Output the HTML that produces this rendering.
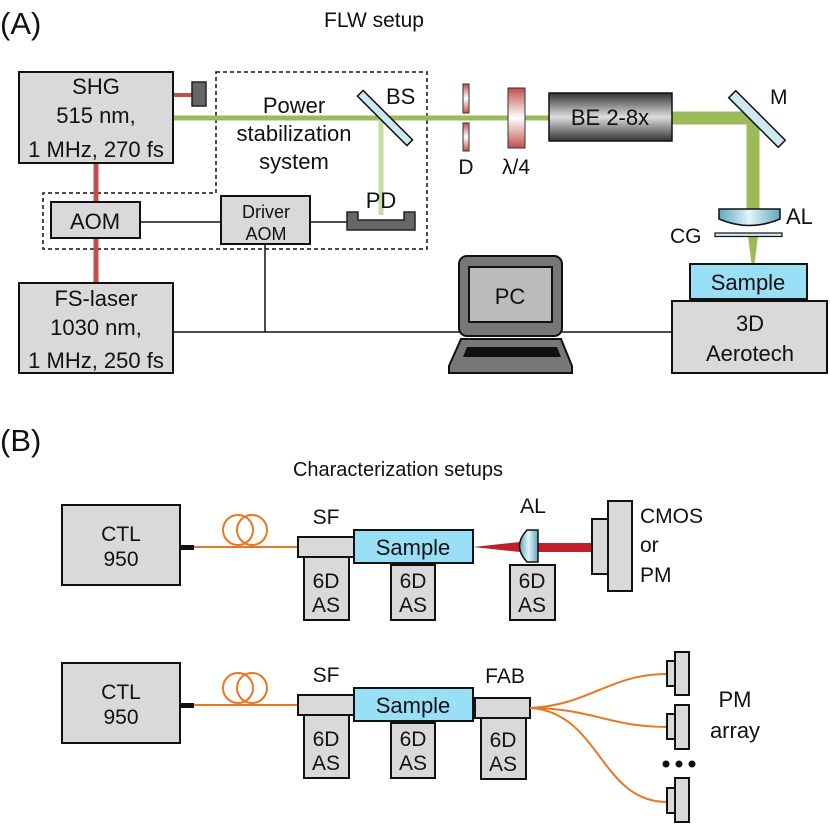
<!DOCTYPE html>
<html><head><style>body{margin:0;background:#fff}svg{display:block}text{font-family:"Liberation Sans",sans-serif;fill:#111}</style></head><body>
<svg width="830" height="829" viewBox="0 0 830 829" xmlns="http://www.w3.org/2000/svg">
<defs>
<linearGradient id="g1" x1="0" y1="0" x2="0" y2="1"><stop offset="0" stop-color="#333"/><stop offset=".5" stop-color="#ddd"/><stop offset="1" stop-color="#333"/></linearGradient>
<linearGradient id="r1" x1="0" y1="0" x2="0" y2="1"><stop offset="0" stop-color="#c0504d"/><stop offset=".5" stop-color="#fff"/><stop offset="1" stop-color="#c0504d"/></linearGradient>
<linearGradient id="b1" x1="0" y1="0" x2="1" y2="0"><stop offset="0" stop-color="#5fa8c0"/><stop offset=".5" stop-color="#e4f4f8"/><stop offset="1" stop-color="#5fa8c0"/></linearGradient>
</defs>
<text x="0" y="34" font-size="31">(A)</text>
<text x="374" y="27" font-size="21" text-anchor="middle">FLW setup</text>
<path d="M216,72H427V249H43V193H216Z" fill="none" stroke="#111" stroke-width="1.5" stroke-dasharray="4,3"/>
<line x1="96" y1="163" x2="96" y2="283" stroke="#c0504d" stroke-width="5"/>
<line x1="173" y1="95" x2="192" y2="95" stroke="#c0504d" stroke-width="4"/>
<rect x="192" y="82" width="14" height="24" fill="#666" stroke="#222" stroke-width="1.5"/>
<line x1="173" y1="118" x2="550" y2="118" stroke="#9bbb59" stroke-width="5"/>
<line x1="381" y1="118" x2="381" y2="215" stroke="#c8dca8" stroke-width="5"/>
<line x1="672" y1="118" x2="759" y2="118" stroke="#9bbb59" stroke-width="13"/>
<line x1="753" y1="112" x2="753" y2="210" stroke="#9bbb59" stroke-width="13"/>
<polygon points="748,236 758,236 753,276" fill="#9bbb59"/>
<rect x="19" y="72" width="154" height="91" fill="#d9d9d9" stroke="#111" stroke-width="2"/>
<text x="96" y="94" font-size="22" text-anchor="middle">SHG</text>
<text x="96" y="123" font-size="22" text-anchor="middle">515 nm,</text>
<text x="96" y="157" font-size="22" text-anchor="middle">1 MHz, 270 fs</text>
<rect x="19" y="283" width="154" height="90" fill="#d9d9d9" stroke="#111" stroke-width="2"/>
<text x="96" y="306" font-size="22" text-anchor="middle">FS-laser</text>
<text x="96" y="335" font-size="22" text-anchor="middle">1030 nm,</text>
<text x="96" y="368" font-size="22" text-anchor="middle">1 MHz, 250 fs</text>
<line x1="140" y1="222" x2="221" y2="222" stroke="#111" stroke-width="1.5"/>
<line x1="310" y1="222" x2="347" y2="222" stroke="#111" stroke-width="1.5"/>
<line x1="265" y1="244" x2="265" y2="332" stroke="#111" stroke-width="1.5"/>
<line x1="173" y1="332" x2="672" y2="332" stroke="#111" stroke-width="1.5"/>
<rect x="51" y="202" width="89" height="36" fill="#d9d9d9" stroke="#111" stroke-width="2"/>
<text x="95" y="229" font-size="22" text-anchor="middle">AOM</text>
<rect x="221" y="196" width="89" height="48" fill="#d9d9d9" stroke="#111" stroke-width="2"/>
<text x="266" y="218" font-size="18" text-anchor="middle">Driver</text>
<text x="266" y="240" font-size="18" text-anchor="middle">AOM</text>
<path d="M347,212H358V220H404V212H415V230H347Z" fill="#666" stroke="#222" stroke-width="1.5"/>
<text x="381" y="208" font-size="22" text-anchor="middle">PD</text>
<text x="294" y="113" font-size="22" text-anchor="middle">Power</text>
<text x="294" y="141" font-size="22" text-anchor="middle">stabilization</text>
<text x="294" y="169" font-size="22" text-anchor="middle">system</text>
<rect x="350" y="114" width="70" height="8" transform="rotate(45 385 118)" fill="#cde8f0" stroke="#111" stroke-width="1.5"/>
<text x="386" y="104" font-size="22">BS</text>
<rect x="463" y="84" width="6" height="29" fill="url(#r1)" stroke="#333"/>
<rect x="463" y="123" width="6" height="28" fill="url(#r1)" stroke="#333"/>
<text x="466" y="174" font-size="21" text-anchor="middle">D</text>
<rect x="508" y="88" width="17" height="60" fill="url(#r1)" stroke="#333"/>
<text x="516" y="174" font-size="21" text-anchor="middle">λ/4</text>
<rect x="549" y="93" width="123" height="48" fill="url(#g1)" stroke="#111" stroke-width="1.5"/>
<text x="610" y="125" font-size="22" text-anchor="middle">BE 2-8x</text>
<rect x="722" y="114" width="70" height="10" transform="rotate(45 757 119)" fill="#cde8f0" stroke="#111" stroke-width="1.5"/>
<text x="770" y="104" font-size="21">M</text>
<path d="M719,209H780V219Q749,232 719,219Z" fill="url(#b1)" stroke="#111" stroke-width="1.5"/>
<text x="786" y="224" font-size="22">AL</text>
<rect x="715" y="233" width="67" height="3.5" fill="#cde8f0" stroke="#111" stroke-width="1.2"/>
<text x="670" y="243" font-size="21">CG</text>
<rect x="690" y="264" width="117" height="35" fill="#99e0f7" stroke="#111" stroke-width="2"/>
<text x="748" y="290" font-size="22" text-anchor="middle">Sample</text>
<rect x="672" y="301" width="155" height="72" fill="#d9d9d9" stroke="#111" stroke-width="2"/>
<text x="750" y="331" font-size="22" text-anchor="middle">3D</text>
<text x="750" y="361" font-size="22" text-anchor="middle">Aerotech</text>
<rect x="459" y="256" width="103" height="80" rx="8" fill="#777" stroke="#111" stroke-width="2"/>
<rect x="469" y="267" width="83" height="55" fill="#bbb" stroke="#111" stroke-width="2"/>
<text x="510" y="304" font-size="22" text-anchor="middle">PC</text>
<path d="M461,339H561L572,366V373H449V366Z" fill="#777" stroke="#111" stroke-width="2"/>
<path d="M467,347H557L561,357H463Z" fill="#111"/>
<text x="0" y="451" font-size="31">(B)</text>
<text x="398" y="476" font-size="20" text-anchor="middle">Characterization setups</text>
<g id="row">
<rect x="62" y="505" width="118" height="80" fill="#d9d9d9" stroke="#111" stroke-width="2"/>
<text x="121" y="541" font-size="21" text-anchor="middle">CTL</text>
<text x="121" y="566" font-size="21" text-anchor="middle">950</text>
<rect x="180" y="545" width="14" height="5" fill="#111"/>
<line x1="194" y1="547" x2="298" y2="547" stroke="#e87722" stroke-width="2"/>
<circle cx="238" cy="530" r="15" fill="none" stroke="#e87722" stroke-width="2"/>
<circle cx="252" cy="530" r="15" fill="none" stroke="#e87722" stroke-width="2"/>
<rect x="298" y="537" width="56" height="20" fill="#d9d9d9" stroke="#111" stroke-width="2"/>
<rect x="304" y="557" width="45" height="63" fill="#d9d9d9" stroke="#111" stroke-width="2"/>
<text x="326" y="588" font-size="21" text-anchor="middle">6D</text>
<text x="326" y="612" font-size="21" text-anchor="middle">AS</text>
<text x="326" y="524" font-size="21" text-anchor="middle">SF</text>
<rect x="354" y="530" width="119" height="33" fill="#99e0f7" stroke="#111" stroke-width="2"/>
<text x="413" y="555" font-size="22" text-anchor="middle">Sample</text>
<rect x="391" y="565" width="44" height="55" fill="#d9d9d9" stroke="#111" stroke-width="2"/>
<text x="413" y="588" font-size="21" text-anchor="middle">6D</text>
<text x="413" y="612" font-size="21" text-anchor="middle">AS</text>
</g>
<polygon points="473,547 520,542 520,552" fill="#c0202a"/>
<rect x="536" y="543" width="56" height="9" fill="#c0202a"/>
<path d="M527,530H538V562H527Q512,546 527,530Z" fill="url(#b1)" stroke="#111" stroke-width="1.5"/>
<rect x="510" y="565" width="45" height="55" fill="#d9d9d9" stroke="#111" stroke-width="2"/>
<text x="532" y="588" font-size="21" text-anchor="middle">6D</text>
<text x="532" y="612" font-size="21" text-anchor="middle">AS</text>
<text x="533" y="513" font-size="21" text-anchor="middle">AL</text>
<rect x="592" y="519" width="16" height="55" fill="#d9d9d9" stroke="#111" stroke-width="2"/>
<rect x="608" y="501" width="24" height="90" fill="#d9d9d9" stroke="#111" stroke-width="2"/>
<text x="640" y="523" font-size="21">CMOS</text>
<text x="640" y="552" font-size="21">or</text>
<text x="640" y="582" font-size="21">PM</text>
<use href="#row" transform="translate(0,158)"/>
<rect x="475" y="698" width="55" height="20" fill="#d9d9d9" stroke="#111" stroke-width="2"/>
<rect x="481" y="718" width="45" height="61" fill="#d9d9d9" stroke="#111" stroke-width="2"/>
<text x="503" y="747" font-size="21" text-anchor="middle">6D</text>
<text x="503" y="771" font-size="21" text-anchor="middle">AS</text>
<text x="505" y="683" font-size="21" text-anchor="middle">FAB</text>
<g fill="none" stroke="#e87722" stroke-width="2">
<path d="M530,708C590,705 610,674 667,674"/>
<path d="M530,708C590,708 610,727 667,727"/>
<path d="M530,708C600,712 600,802 667,802"/>
</g>
<g fill="#d9d9d9" stroke="#111" stroke-width="2">
<rect x="667" y="661" width="8" height="25"/><rect x="675" y="652" width="14" height="43"/>
<rect x="667" y="714" width="8" height="25"/><rect x="675" y="705" width="14" height="44"/>
<rect x="667" y="788" width="8" height="25"/><rect x="675" y="778" width="14" height="44"/>
</g>
<circle cx="666" cy="764" r="3.5" fill="#111"/><circle cx="679" cy="764" r="3.5" fill="#111"/><circle cx="692" cy="764" r="3.5" fill="#111"/>
<text x="735" y="707" font-size="22" text-anchor="middle">PM</text>
<text x="735" y="738" font-size="22" text-anchor="middle">array</text>
</svg>
</body></html>
